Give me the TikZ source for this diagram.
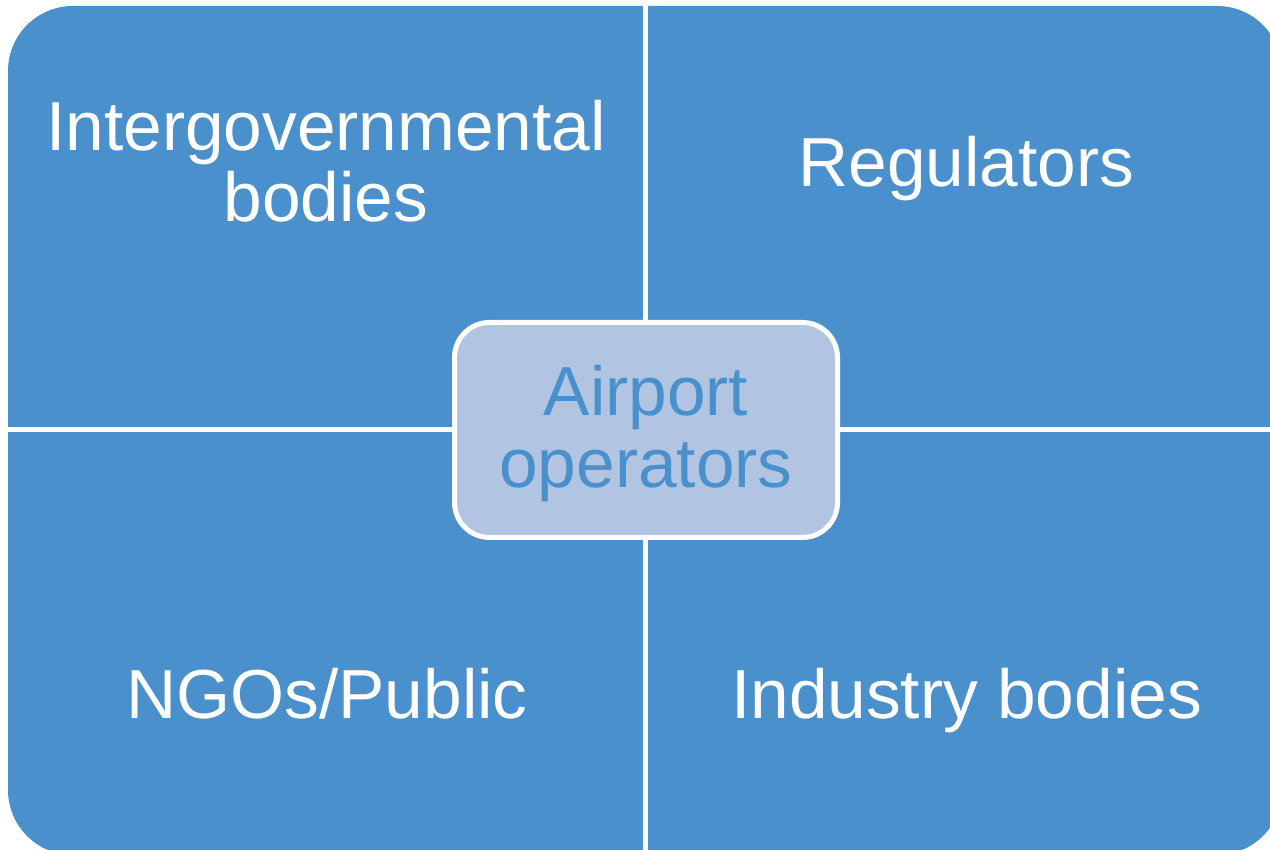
\documentclass[tikz,border=0pt]{standalone}
\usepackage{fontspec}
\setmainfont{Liberation Sans}
\definecolor{white}{RGB}{255,255,255}
\definecolor{quad_blue}{RGB}{74,144,205}
\definecolor{pale_blue}{RGB}{177,197,227}

\begin{document}
\begin{tikzpicture}[font=\fontsize{19.75}{20.2}\selectfont]
	\useasboundingbox (0,0) rectangle (12.7,8.5);
	\clip (0,0) rectangle (12.7,8.5);

	% the four quadrants: one rounded block cut by two white lines
	\fill[quad_blue,rounded corners=0.65cm] (0.08,-0.05) rectangle (12.82,8.44);
	\draw[white,line width=0.05cm] (6.455,-0.2) -- (6.455,8.7);
	\draw[white,line width=0.05cm] (-0.2,4.205) -- (12.9,4.205);

	\node[text=white,align=center] (intergov) at (3.26,6.89) {Intergovernmental\\bodies};
	\node[text=white,anchor=base] (regulators) at (9.665,6.63) {Regulators};
	\node[text=white,anchor=base] (ngos) at (3.27,1.31) {NGOs/Public};
	\node[text=white,anchor=base] (industry) at (9.665,1.31) {Industry bodies};

	% centre box
	\node[draw=white,line width=0.05cm,fill=pale_blue,rounded corners=0.35cm,minimum width=3.83cm,minimum height=2.15cm,text=quad_blue,align=center,text depth=0.08cm,font=\fontsize{19.75}{20.5}\selectfont] (airport) at (6.46,4.20) {Airport\\operators};
\end{tikzpicture}
\end{document}
